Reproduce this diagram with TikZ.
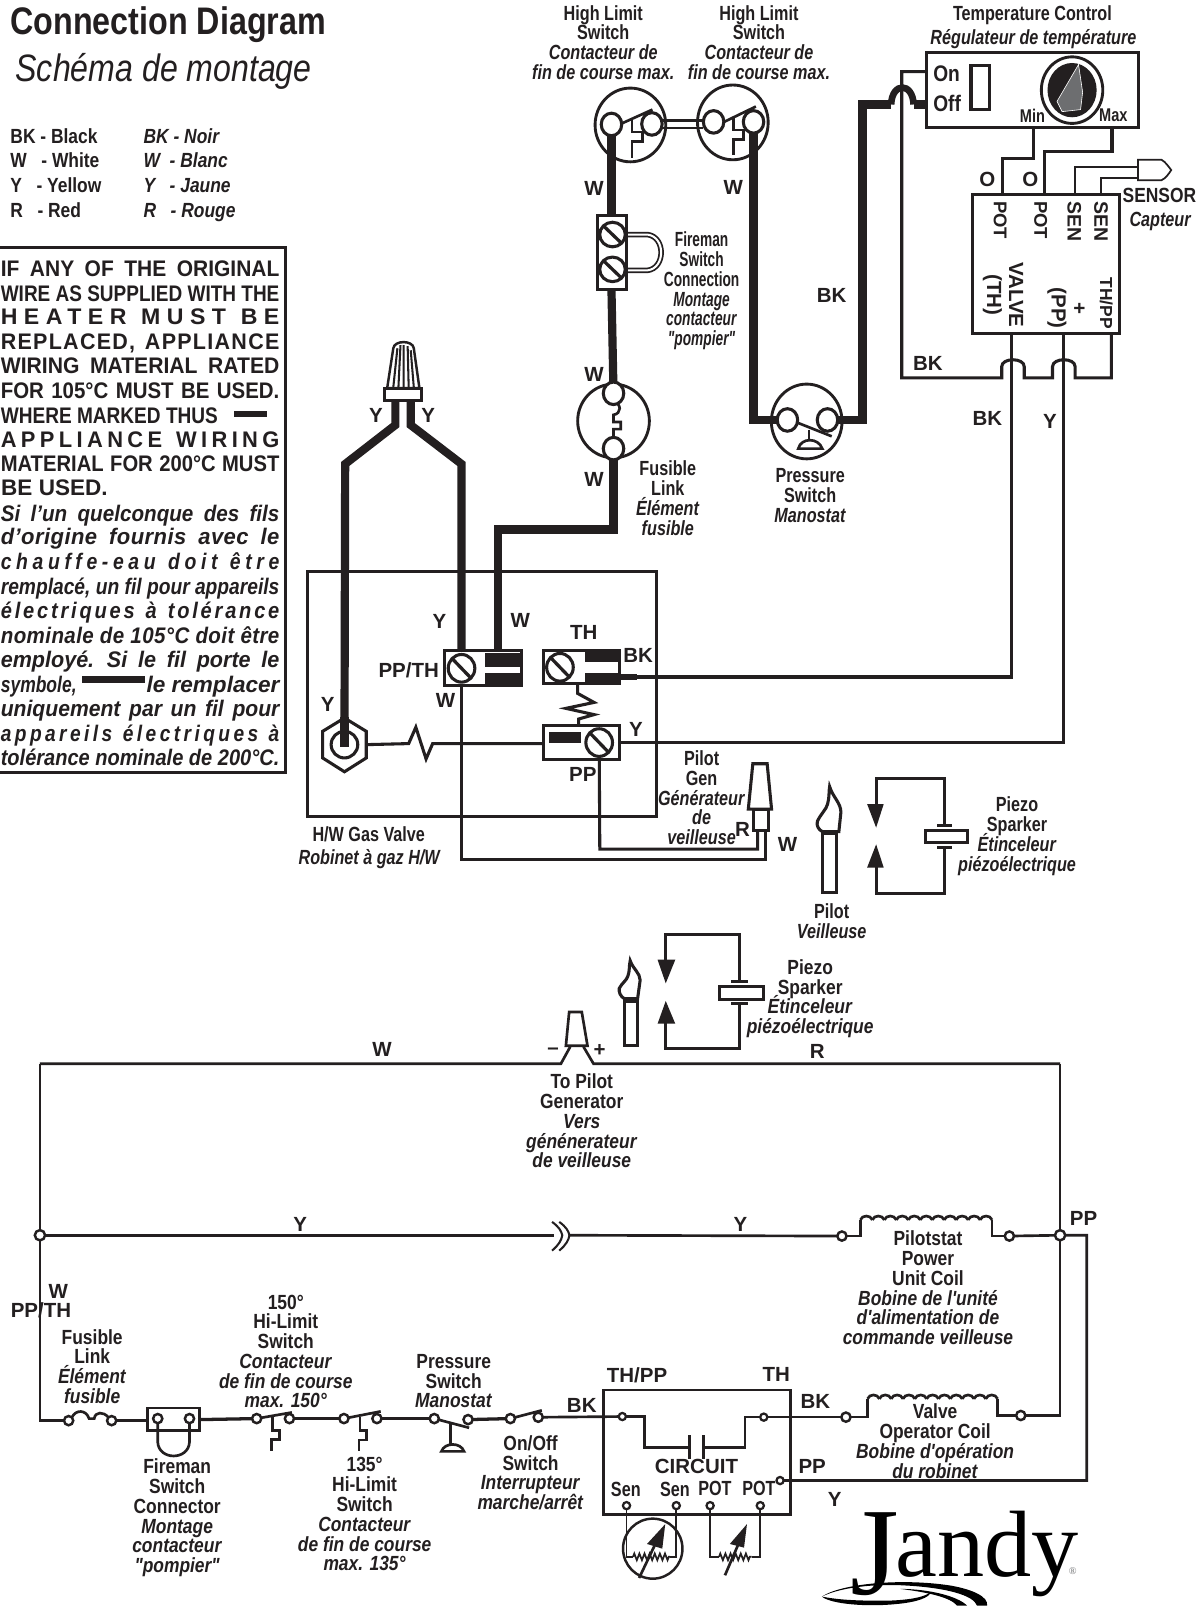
\documentclass[tikz,border=0pt]{standalone}
\usepackage{fontspec}
\usepackage{graphicx}
\usetikzlibrary{shapes.geometric,decorations.pathmorphing}
\setmainfont{Liberation Sans}
\newfontfamily\cn[FakeStretch=0.79]{Liberation Sans}
\newfontfamily\cnw[FakeStretch=0.85]{Liberation Sans}
\newfontfamily\cnn[FakeStretch=0.67]{Liberation Sans}
\newfontfamily\cnt[FakeStretch=0.84]{Liberation Sans}
\newfontfamily\jfont{Liberation Serif}
\definecolor{ink}{HTML}{231F20}
\definecolor{knobgrey}{HTML}{6D6E70}
\newcommand\lblfont{\cn\bfseries\fontsize{20}{19.3}\selectfont\lineskiplimit=-30pt\relax}
\newcommand\lblwfont{\cnw\bfseries\fontsize{20}{19.3}\selectfont\lineskiplimit=-30pt\relax}
\newcommand\lblnfont{\cnn\bfseries\fontsize{20}{19.3}\selectfont\lineskiplimit=-30pt\relax}
\tikzset{
  thinw/.style={line width=3,color=ink},
  fatw/.style={line width=8,color=ink},
  botw/.style={line width=2.6,color=ink},
  finew/.style={line width=1.7,color=ink},
  boxw/.style={draw=ink,line width=3,fill=white,inner sep=0,outer sep=0},
  term/.style={ellipse,draw=ink,line width=3,fill=white,inner sep=0,outer sep=0,minimum width=20,minimum height=22},
  sterm/.style={circle,draw=ink,line width=2.4,fill=white,inner sep=0,outer sep=0,minimum size=9},
  tterm/.style={circle,draw=ink,line width=2.2,fill=white,inner sep=0,outer sep=0,minimum size=7},
  lbl/.style={inner sep=0,align=center,text=ink,font=\lblfont},
  lblw/.style={inner sep=0,align=center,text=ink,font=\lblwfont},
  lbln/.style={inner sep=0,align=center,text=ink,font=\lblnfont},
  wlb/.style={inner sep=0,text=ink,font=\fontsize{20}{20}\selectfont\bfseries},
  leg/.style={inner sep=0,anchor=base west,text=ink,font=\cnw\bfseries\fontsize{20}{20}\selectfont},
  warn/.style={inner sep=0,anchor=base east,text=ink,font=\fontsize{22}{24}\selectfont},
  zz/.style={decorate,decoration={zigzag,segment length=5,amplitude=3.2}},
}
\newcommand\lab[3]{\node[wlb] (lab-#1-#2) at (#1,#2) {#3};}
\newcommand\cl[3]{\node[lbl] (cl-#1-#2) at (#1,#2) {#3};}
\newcommand\clw[3]{\node[lblw] (cl-#1-#2) at (#1,#2) {#3};}
\newcommand\cln[3]{\node[lbln] (cl-#1-#2) at (#1,#2) {#3};}
\newcommand\rtx[4][20]{\node[wlb,rotate=-90,font=\fontsize{#1}{#1}\selectfont\bfseries] (rt-#2-#3) at (#2,#3) {#4};}
\newcommand\itl[1]{\textit{#1}}
\newcommand\wln[3]{\def\wtext{\bfseries\addfontfeature{LetterSpace=#2}#3}\node[warn] (wl#1) at (273,#1) {\resizebox{272pt}{\height}{\wtext}};}
\newcommand\wli[3]{\def\wtext{\bfseries\itshape\addfontfeature{LetterSpace=#2}#3}\node[warn] (wl#1) at (273,#1) {\resizebox{272pt}{\height}{\wtext}};}
\newcommand\screw[4]{\draw[line width=3,color=ink,fill=white] (#1,#2) ellipse ({#3} and {#4});
  \draw[line width=3.2,color=ink] ({#1-0.72*#3},{#2-0.72*#4}) -- ({#1+0.72*#3},{#2+0.72*#4});}
\newcommand\coil[3]{\foreach \i in {0,...,10}{\draw[botw]
  ({#1+\i*(#2-#1)/11},#3) .. controls ({#1+(\i+.15)*(#2-#1)/11},{#3-5}) and ({#1+(\i+.85)*(#2-#1)/11},{#3-5}) .. ({#1+(\i+1)*(#2-#1)/11},#3);}}
\begin{document}
\begin{tikzpicture}[x=1pt,y=-1pt,line join=miter]
\useasboundingbox (0,0) rectangle (1171,1568);
\clip (0,0) rectangle (1171,1568);
\fill[white] (0,0) rectangle (1171,1568);

%% ---------- titles and legend
\node[inner sep=0,anchor=base west,text=ink,font=\cnt\fontsize{37.5}{38}\selectfont\bfseries] (title) at (10,34) {Connection Diagram};
\node[inner sep=0,anchor=base west,text=ink,font=\cnt\fontsize{37.3}{38}\selectfont\itshape] (subtitle) at (15,80) {Schéma de montage};
\node[leg] (l1) at (10,140) {BK - Black};
\node[leg] (l2) at (10,164) {W \ \ - White};
\node[leg] (l3) at (10,188) {Y \ \ - Yellow};
\node[leg] (l4) at (10,212) {R \ \ - Red};
\node[leg] (l5) at (140,140) {\itl{BK - Noir}};
\node[leg] (l6) at (140,164) {\itl{W \ - Blanc}};
\node[leg] (l7) at (140,188) {\itl{Y \ \ - Jaune}};
\node[leg] (l8) at (140,212) {\itl{R \ \ - Rouge}};

%% ---------- warning box
\draw[line width=2.8,color=ink] (-3,242) -- (279,242) -- (279,754) -- (-3,754);
\wln{270}{0}{\spaceskip=11pt IF ANY OF THE ORIGINAL}
\wln{294}{0}{WIRE AS SUPPLIED WITH THE}
\wln{317}{28}{\spaceskip=14pt HEATER MUST BE}
\wln{341}{6}{\spaceskip=10pt REPLACED, APPLIANCE}
\wln{365}{0}{\spaceskip=11pt WIRING MATERIAL RATED}
\wln{389}{0}{\spaceskip=8pt FOR 105°C MUST BE USED.}
\node[warn] (wl413) at (213,413) {\resizebox{212pt}{\height}{\bfseries WHERE MARKED THUS}};
\fill[ink] (228,401) rectangle (261,407);
\wln{437}{20}{\spaceskip=14pt APPLIANCE WIRING}
\wln{460}{0}{\spaceskip=7pt MATERIAL FOR 200°C MUST}
\node[warn,anchor=base west] (wl484) at (1,484) {\bfseries BE USED.};
\wli{509}{0}{\spaceskip=11pt Si l'un quelconque des fils}
\wli{532}{2}{\spaceskip=12pt d'origine fournis avec le}
\wli{556}{24}{\spaceskip=14pt chauffe-eau doit être}
\wli{580}{0}{remplacé, un fil pour appareils}
\wli{604}{14}{\spaceskip=12pt électriques à tolérance}
\wli{628}{2}{nominale de 105°C doit être}
\wli{652}{0}{\spaceskip=11pt employé. Si le fil porte le}
\node[warn] (wl676b) at (273,676) {\bfseries\itshape le remplacer};
\node[warn] (wl676a) at (75,676) {\resizebox{74pt}{\height}{\bfseries\itshape symbole,}};
\fill[ink] (80,660) rectangle (142,667);
\wli{700}{0}{\spaceskip=9pt uniquement par un fil pour}
\wli{724}{18}{\spaceskip=12pt appareils électriques à}
\wli{747}{0}{tolérance nominale de 200°C.}

%% ---------- named wire ends, upper diagram
\coordinate (s1L) at (597,121.5);
\coordinate (s1R) at (636.5,121);
\coordinate (s2L) at (696.7,119);
\coordinate (s2R) at (735.7,119);
\coordinate (fzT) at (599,384);
\coordinate (fzB) at (599,438);
\coordinate (psL) at (768.8,410);
\coordinate (psR) at (807.9,410);
\coordinate (blk1) at (597,210);
\coordinate (blk2) at (597,283);
\coordinate (ppA) at (486.5,636);
\coordinate (ppB) at (450.6,652.5);
\coordinate (nutL) at (386,388);
\coordinate (nutR) at (401,388);
\coordinate (hexc) at (336.3,727);
\coordinate (thE) at (604,661);
\coordinate (ppE) at (585,725);
\coordinate (pgR) at (739.7,808);
\coordinate (pgW) at (747.5,808);
\coordinate (tcOn) at (905.4,70);
\coordinate (tcOff) at (905.4,102);
\coordinate (tcMin) at (1009.4,125);
\coordinate (tcMax) at (1085.7,125);
\coordinate (cbP1) at (979,190);
\coordinate (cbP2) at (1020,190);
\coordinate (cbS1) at (1049.7,190);
\coordinate (cbS2) at (1075,190);
\coordinate (cbV) at (988,326);
\coordinate (cbPl) at (1038,326);
\coordinate (cbT) at (1085,326);
\coordinate (sens1) at (1111,163);
\coordinate (sens2) at (1111,173.5);

%% ---------- gas valve
\draw[line width=3,color=ink] (300,558) rectangle (641,797);

%% ---------- heavy wires
\draw[fatw] (s1L) ++(0,12) -- (blk1);
\draw[fatw] (blk2) -- (fzT);
\draw[fatw] (fzB) -- (599,517) -- (486.5,517) -- (ppA);
\draw[fatw] (s2R) ++(0,10) -- (735.7,410) -- (psL);
\draw[fatw] (psR) -- (842,410) -- (842,102) -- (870,102);
\draw[line width=6.5,color=ink] (870,102) .. controls (871,80) and (891,80) .. (892,102);
\draw[fatw] (892,102) -- (tcOff);
\draw[fatw] (nutL) -- (386,415) -- (337,453) -- (hexc);
\draw[fatw] (nutR) -- (401,415) -- (450.6,453) -- (450.6,640);

%% ---------- thin wires, upper diagram
\draw[thinw] (tcOn) -- (880.4,70) -- (880.4,369) -- (978,369) -- (978,358)
  .. controls (978,349) and (1000,349) .. (1000,358) -- (1000,369) -- (1027.6,369) -- (1027.6,358)
  .. controls (1027.6,349) and (1049.7,349) .. (1049.7,358) -- (1049.7,369) -- (1085,369) -- (cbT);
\draw[thinw] (tcMin) -- (1009.4,155) -- (979,155) -- (cbP1);
\draw[thinw] (tcMax) -- (1085.7,147.5) -- (1020,147.5) -- (cbP2);
\draw[finew] (cbS1) -- (1049.7,163) -- (sens1);
\draw[finew] (cbS2) -- (1075,173.5) -- (sens2);
\draw[thinw] (cbV) -- (988,661) -- (thE);
\draw[line width=6,color=ink] (thE) -- (622,661);
\draw[thinw] (cbPl) -- (1038,725) -- (ppE);
\draw[thinw] (ppB) -- (450.6,839) -- (747.5,839) -- (pgW);
\draw[thinw] (ppE) -- (585.6,829) -- (739.7,829) -- (pgR);
\draw[thinw] (hexc) ++(22,0) -- (399,726) -- (406,710) -- (416,741) -- (422.4,726) -- (530.5,726);

%% ---------- high limit switches
\draw[line width=2.8,color=ink] (615.5,122) ellipse (34.5 and 36);
\draw[line width=2.8,color=ink] (715.5,119.5) ellipse (34.5 and 36.5);
\draw[botw] (606,121) -- (637,107);
\draw[botw] (707,119) -- (738,104);
\draw[botw] (617,117) -- (617,129) -- (627,129) -- (627,138) -- (617,138) -- (617,154);
\draw[botw] (716,115) -- (716,127) -- (726,127) -- (726,136) -- (716,136) -- (716,151);
\draw[line width=2.5,color=ink] (646,117.5) -- (686,117.5);
\draw[line width=2.5,color=ink] (646,125) -- (686,125);
\node[term] (t-s1L) at (s1L) {};
\node[term] (t-s1R) at (s1R) {};
\node[term] (t-s2L) at (s2L) {};
\node[term] (t-s2R) at (s2R) {};
\fill[ink] (593,133) rectangle (601,140);
\fill[ink] (731.7,129.5) rectangle (739.7,136);

%% ---------- fireman block
\draw[line width=5.4,color=ink] (612,229) -- (632,229) .. controls (650,231) and (650,262) .. (632,264) -- (612,264);
\draw[line width=2,color=white] (610,229) -- (632,229) .. controls (650,231) and (650,262) .. (632,264) -- (610,264);
\draw[line width=3,color=ink,fill=white] (583.5,210) rectangle (612,283);
\screw{598}{229}{12.5}{12}
\screw{598}{263}{12.5}{12}

%% ---------- fusible link
\draw[line width=2.8,color=ink] (599,411) ellipse (35 and 36);
\draw[botw] (599,392) .. controls (607,394) and (607,404) .. (599,405) -- (599,412) -- (606,412) -- (606,419) -- (599,419) -- (599,430);
\node[term] (t-fzT) at (fzT) {};
\node[term] (t-fzB) at (fzB) {};

%% ---------- pressure switch
\draw[line width=2.8,color=ink,fill=white] (787.6,411.5) ellipse (34.5 and 36.5);
\fill[ink] (735,406) rectangle (760,414);
\fill[ink] (816,406) rectangle (838,414);
\draw[botw] (779.4,413) -- (812,426);
\draw[botw] (790,419.5) -- (790,431);
\draw[botw] (779.4,438) .. controls (782,427) and (799,427) .. (802.8,438) -- cycle;
\node[term] (t-psL) at (psL) {};
\node[term] (t-psR) at (psR) {};

%% ---------- temperature control
\node[boxw,minimum width=206.2,minimum height=73.8] (tc) at (1008,88) {};
\node[inner sep=0,anchor=west,text=ink,font=\fontsize{22}{22}\selectfont\cnw\bfseries] (on) at (911,72) {On};
\node[inner sep=0,anchor=west,text=ink,font=\fontsize{22}{22}\selectfont\cnw\bfseries] (off) at (911,101) {Off};
\draw[line width=3,color=ink] (948,64) rectangle (966,107);
\draw[line width=2.8,color=ink] (1046.7,88) ellipse (30 and 32.5);
\fill[ink] (1046.7,88) ellipse (24 and 26.5);
\fill[knobgrey,draw=white,line width=.6] (1053,63) -- (1032,99) -- (1037,109) -- (1055,107) -- (1057,90) -- cycle;
\node[lbl,font=\cn\bfseries\fontsize{18}{18}\selectfont] (min) at (1008,113) {Min};
\node[lbl,font=\cn\bfseries\fontsize{18}{18}\selectfont] (max) at (1087,113) {Max};

%% ---------- control module
\node[boxw,minimum width=143.5,minimum height=136] (cb) at (1021.5,258) {};
\rtx[18]{976.5}{215}{POT}
\rtx[18]{1016}{215}{POT}
\rtx[19]{1049}{216}{SEN}
\rtx[19]{1075}{216}{SEN}
\rtx{992}{288}{VALVE}
\rtx{969}{288}{(TH)}
\rtx{1053}{301}{+}
\rtx{1032}{301}{(PP)}
\rtx[17]{1080}{296}{TH/PP}
\lab{964}{175}{O}
\lab{1006}{175}{O}
\draw[finew,fill=white] (1111,156) -- (1134,156) .. controls (1138,158) and (1141,163) .. (1143.5,166) .. controls (1141,170) and (1138,174) .. (1134,176) -- (1111,176) -- cycle;
\clw{1132}{191}{SENSOR}
\cl{1133}{216}{\itl{Capteur}}

%% ---------- wire nut
\draw[line width=2.4,color=ink,fill=white] (378,379) -- (384,340) .. controls (385,332) and (403,332) .. (404,340) -- (409.5,379) -- cycle;
\draw[line width=2,color=ink] (384,378) -- (388,340) (389,378) -- (391,337) (394,378) -- (394,337) (399,378) -- (398,338) (404,378) -- (401,342);
\draw[line width=2.8,color=ink,fill=white] (375.5,379) rectangle (411.5,391);

%% ---------- valve blocks
\draw[line width=3,color=ink,fill=white] (433.7,635) rectangle (508.8,669);
\fill[ink] (474,638) rectangle (508.8,650.8);
\fill[ink] (474,656.6) rectangle (508.8,669);
\screw{450.6}{652.5}{13}{13.5}
\draw[line width=3,color=ink,fill=white] (530.5,635) rectangle (604.4,667.6);
\fill[ink] (571.3,635) rectangle (604.4,646.4);
\fill[ink] (571.3,656.6) rectangle (604.4,667.6);
\screw{546.7}{651.5}{13}{13.5}
\draw[line width=3,color=ink,fill=white] (530.5,708.7) rectangle (604.4,741.6);
\fill[ink] (536,715) rectangle (567.5,725);
\screw{585}{725}{13}{13.5}
\draw[thinw] (564,667.6) -- (564,677) -- (580,685.8) -- (552.5,691.6) -- (580,697.7) -- (565,702) -- (565,708.7);
\draw[line width=3,color=ink,fill=white] (336.3,701) -- (357.6,714) -- (357.6,740) -- (336.3,753.5) -- (315,740) -- (315,714) -- cycle;
\draw[line width=3,color=ink] (336.3,727) circle (13);
\fill[ink] (332.3,700) rectangle (340.3,729);

%% ---------- pilot generator
\draw[line width=3,color=ink,fill=white] (735,745.7) -- (749,745.7) -- (753.3,790) -- (730.6,790) -- cycle;
\draw[line width=3,color=ink,fill=white] (736,790) rectangle (750,810.7);

%% ---------- pilot 1 and piezo 1
\draw[line width=3,color=ink,fill=white] (810,768) .. controls (813,778) and (821,784) .. (821,793) -- (819,812) -- (803,812) .. controls (799,810) and (797,806) .. (798,802) .. controls (801,795) and (807,790) .. (808,785) .. controls (810,778) and (809,773) .. (810,768) -- cycle;
\draw[line width=3,color=ink] (803,813) rectangle (817,871.5);
\draw[line width=4,color=ink] (802,813) -- (818,813);
\draw[thinw] (922.5,806) -- (922.5,760) -- (855.4,760) -- (855.4,790);
\fill[ink] (846.6,785) -- (862.8,785) -- (855.4,808) -- cycle;
\fill[ink] (846.6,847) -- (862.8,847) -- (855.4,824.4) -- cycle;
\draw[thinw] (855.4,845) -- (855.4,872) -- (922.5,872) -- (922.5,828);
\draw[line width=3.2,color=ink] (915,806) -- (929.6,806) (915,827.6) -- (929.6,827.6);
\draw[line width=3,color=ink,fill=white] (903.6,810.7) rectangle (944.3,823);

%% ---------- pilot 2 and piezo 2
\draw[line width=3,color=ink,fill=white] (615.3,938) .. controls (618,946) and (625,950) .. (625,957) -- (622.5,975) -- (609.5,975) .. controls (606,973) and (604,969) .. (604.6,965) .. controls (607,960) and (612,957) .. (613,953) .. controls (615,948) and (614,943) .. (615.3,938) -- cycle;
\draw[line width=3,color=ink] (609.5,977) rectangle (622,1020.5);
\draw[line width=4,color=ink] (608.5,977) -- (623,977);
\draw[thinw] (722,958) -- (722,912) -- (650,912) -- (650,940);
\fill[ink] (642,937) -- (659.3,937) -- (650,960) -- cycle;
\fill[ink] (642,999.5) -- (659.3,999.5) -- (650,977.3) -- cycle;
\draw[thinw] (650,998) -- (650,1024) -- (722,1024) -- (722,980);
\draw[line width=3.2,color=ink] (714,958) -- (730,958) (714,980) -- (730,980);
\draw[line width=3,color=ink,fill=white] (702.6,962.7) rectangle (745.6,975.7);

%% ---------- generator on the schematic
\coordinate (gL) at (547.6,1038.6);
\coordinate (gR) at (579.5,1038.6);
\coordinate (rC) at (1035,1038.6);
\coordinate (lC) at (39,1038.6);
\draw[line width=2.6,color=ink] (lC) -- (gL) -- (556.7,1022);
\draw[line width=2.6,color=ink] (569.7,1022) -- (gR) -- (rC);
\draw[line width=2.6,color=ink,fill=white] (555.7,988) -- (568,988) -- (573.6,1021) -- (552.5,1021) -- cycle;

%% ---------- schematic nodes
\node[sterm,minimum size=10] (nL) at (39,1206) {};
\node[sterm,minimum size=10] (nR) at (1035,1206) {};
\node[sterm] (c1a) at (822,1206.8) {};
\node[sterm] (c1b) at (985.5,1206.8) {};
\node[sterm] (f1) at (67,1387) {};
\node[sterm] (f2) at (109,1387) {};
\node[sterm] (fm1) at (154,1385) {};
\node[sterm] (fm2) at (185,1385) {};
\node[sterm] (h1a) at (250.6,1385) {};
\node[sterm] (h1b) at (282.6,1385) {};
\node[sterm] (h2a) at (335.8,1385) {};
\node[sterm] (h2b) at (368,1385) {};
\node[sterm] (p1) at (424,1385) {};
\node[sterm] (p2) at (457,1386) {};
\node[sterm] (o1) at (498.3,1385) {};
\node[sterm] (o2) at (525.5,1383.7) {};
\node[tterm] (cTP) at (607.6,1383) {};
\node[tterm] (cTH) at (745.7,1383.6) {};
\node[sterm] (v1) at (825.9,1383.6) {};
\node[sterm] (v2) at (996.6,1382) {};
\node[tterm] (cPP) at (761.6,1445.5) {};
\node[tterm] (s1) at (611.7,1470) {};
\node[tterm] (s2) at (660.3,1470) {};
\node[tterm] (pt1) at (693.3,1470) {};
\node[tterm] (pt2) at (742.3,1470) {};

%% ---------- schematic wires
\draw[botw] (lC) -- (nL) -- (39,1387) -- (f1);
\draw[botw] (nR) -- (rC);
\draw[botw] (nR) -- (1035,1382) -- (v2);
\draw[botw] (nL) -- (541,1206);
\draw[botw] (555,1206) -- (c1a);
\draw[line width=2,color=ink] (539,1193) .. controls (546,1198) and (548,1202) .. (549,1206) .. controls (548,1211) and (546,1215) .. (539,1221);
\draw[line width=2,color=ink] (546,1193) .. controls (553,1198) and (555,1202) .. (556,1206) .. controls (555,1211) and (553,1215) .. (546,1221);
\draw[botw] (c1a) -- (840,1206.8) -- (840,1191);
\coil{840}{968.6}{1191}
\draw[botw] (968.6,1191) -- (968.6,1206.8) -- (c1b);
\draw[botw] (c1b) -- (nR) -- (1061,1206) -- (1061,1445.5) -- (cPP);
\draw[botw] (f1.north east) .. controls (74,1376) and (84,1376) .. (87,1385) -- (92,1385) .. controls (93,1378) and (101,1378) .. (f2.north west);
\draw[botw] (f2) -- (144,1387);
\draw[botw] (144,1374.6) rectangle (195,1396.7);
\draw[botw] (fm1) -- (154,1408) .. controls (155,1426) and (184,1426) .. (185,1408) -- (fm2);
\draw[line width=3.2,color=ink] (195,1386) -- (h1a);
\draw[botw] (h1a) -- (285,1379);
\draw[botw] (266,1383) -- (266,1396.7) -- (273,1396.7) -- (273,1405.5) -- (265,1405.5) -- (265,1417);
\draw[line width=3.2,color=ink] (h1b) -- (h2a);
\draw[botw] (h2a) -- (371.7,1378);
\draw[botw] (351.5,1383) -- (351.5,1396.7) -- (358,1396.7) -- (358,1406) -- (350.4,1406) -- (350.4,1417);
\draw[line width=3.2,color=ink] (h2b) -- (p1);
\draw[botw] (p1) -- (458,1394);
\draw[botw] (440,1389) -- (440,1410);
\draw[botw] (431,1417) .. controls (434,1408) and (450,1408) .. (453,1417) -- cycle;
\draw[line width=3.2,color=ink] (p2) -- (o1);
\draw[botw] (o1) -- (529,1377);
\draw[botw] (o2) -- (cTP);
\draw[botw] (cTP) -- (629,1383) -- (629,1413) -- (673.3,1413);
\draw[botw] (673.3,1401.5) -- (673.3,1424);
\draw[botw] (686.6,1401.5) -- (686.6,1424);
\draw[botw] (686.6,1413) -- (727.5,1413) -- (727.5,1383.6) -- (cTH);
\draw[botw] (cTH) -- (v1);
\draw[botw] (v1) -- (847,1383.6) -- (847,1365.7);
\coil{847}{974}{1365.7}
\draw[botw] (974,1365.7) -- (974,1382) -- (v2);
\draw[botw] (589,1357) rectangle (772,1478.7);

%% sensor and pot
\draw[line width=2.4,color=ink] (637.3,1512) ellipse (29 and 29.3);
\draw[finew] (s1) -- (611.7,1520) -- (618,1520);
\draw[finew,zz] (618,1520) -- (654,1520);
\draw[finew] (654,1520) -- (660.3,1520) -- (s2);
\draw[botw] (624,1540.6) -- (641,1505);
\fill[ink] (649.5,1488) -- (631.7,1507.4) -- (646.6,1512) -- cycle;
\draw[finew] (pt1) -- (693.3,1520) -- (702,1520);
\draw[finew,zz] (702,1520) -- (733.8,1520);
\draw[finew] (733.8,1520) -- (742.3,1520) -- (pt2);
\draw[botw] (707.8,1538) -- (722,1505);
\fill[ink] (729.3,1488) -- (712.6,1507.4) -- (726.4,1511) -- cycle;

%% ---------- upper labels
\cl{589}{41.5}{High Limit\\Switch\\\itl{Contacteur de}\\\itl{fin de course max.}}
\cl{741}{41.5}{High Limit\\Switch\\\itl{Contacteur de}\\\itl{fin de course max.}}
\cl{1008}{15}{Temperature Control}
\cl{1009}{38}{\itl{Régulateur de température}}
\cln{685}{284}{Fireman\\Switch\\Connection\\\itl{Montage}\\\itl{contacteur}\\\itl{"pompier"}}
\cl{652}{486.5}{Fusible\\Link\\\itl{Élément}\\\itl{fusible}}
\cl{791}{484}{Pressure\\Switch\\\itl{Manostat}}
\cl{685}{779}{Pilot\\Gen\\\itl{Générateur}\\\itl{de}\\\itl{veilleuse}}
\cl{360}{815}{H/W Gas Valve}
\cl{361}{839}{\itl{Robinet à gaz H/W}}
\cl{812}{899.5}{Pilot\\\itl{Veilleuse}}
\cl{993}{816.5}{Piezo\\Sparker\\\itl{Étinceleur}\\\itl{piézoélectrique}}
\clw{791}{975}{Piezo\\Sparker\\\itl{Étinceleur}\\\itl{piézoélectrique}}
\clw{568}{1094.5}{To Pilot\\Generator\\\itl{Vers}\\\itl{génénerateur}\\\itl{de veilleuse}}
\clw{906}{1257.5}{Pilotstat\\Power\\Unit Coil\\\itl{Bobine de l'unité}\\\itl{d'alimentation de}\\\itl{commande veilleuse}}
\clw{913}{1407}{Valve\\Operator Coil\\\itl{Bobine d'opération}\\\itl{du robinet}}
\clw{90}{1334}{Fusible\\Link\\\itl{Élément}\\\itl{fusible}}
\clw{279}{1319.5}{150°\\Hi-Limit\\Switch\\\itl{Contacteur}\\\itl{de fin de course}\\\itl{max. 150°}}
\clw{356}{1478.5}{135°\\Hi-Limit\\Switch\\\itl{Contacteur}\\\itl{de fin de course}\\\itl{max. 135°}}
\clw{443}{1348.5}{Pressure\\Switch\\\itl{Manostat}}
\clw{518}{1438}{On/Off\\Switch\\\itl{Interrupteur}\\\itl{marche/arrêt}}
\clw{173}{1482}{Fireman\\Switch\\Connector\\\itl{Montage}\\\itl{contacteur}\\\itl{"pompier"}}
\cl{611}{1454}{Sen}
\cl{659}{1454}{Sen}
\cl{698}{1453}{POT}
\cl{741}{1453}{POT}

\lab{580}{184}{W}
\lab{716}{183}{W}
\lab{812}{288}{BK}
\lab{580}{366}{W}
\lab{580}{468}{W}
\lab{906}{355}{BK}
\lab{964}{409}{BK}
\lab{1025}{411}{Y}
\lab{367}{406}{Y}
\lab{418}{406}{Y}
\lab{429}{607}{Y}
\lab{508}{606}{W}
\lab{399}{654}{PP/TH}
\lab{435}{684}{W}
\lab{570}{617}{TH}
\lab{623}{640}{BK}
\lab{320}{688}{Y}
\lab{621}{712}{Y}
\lab{569}{756}{PP}
\lab{725}{810}{R}
\lab{769}{824}{W}
\lab{798}{1027}{R}
\lab{373}{1025}{W}
\lab{293}{1195}{Y}
\lab{723}{1195}{Y}
\lab{1058}{1190}{PP}
\lab{57}{1261}{W}
\lab{40}{1279}{PP/TH}
\lab{622}{1343}{TH/PP}
\lab{758}{1342}{TH}
\lab{568}{1372}{BK}
\lab{796}{1368}{BK}
\lab{793}{1432}{PP}
\lab{815}{1464}{Y}
\lab{680}{1432}{CIRCUIT}
\lab{540}{1026}{–}
\lab{585.4}{1026}{+}

%% ---------- logo
\fill[black] (802.5,1558.8) .. controls (820.4,1546.4) and (879,1540.5) .. (927.9,1548) .. controls (950.7,1552) and (965.3,1559.4) .. (963.7,1567.6) -- (953.9,1567.6) .. controls (950.7,1557.8) and (924.6,1549.7) .. (879,1547.7) .. controls (846.4,1546.4) and (817.1,1551.3) .. (802.5,1558.8) -- cycle;
\fill[black] (802.5,1558.8) .. controls (810.6,1566) and (846.4,1569.2) .. (875.8,1566) .. controls (895.3,1564.3) and (908.3,1559.4) .. (908.3,1554.5) .. controls (901.8,1560.1) and (885,1562) .. (869.2,1562.7) .. controls (830.2,1563.3) and (813.9,1561) .. (802.5,1558.8) -- cycle;
\fill[black] (879,1551.3) .. controls (905,1551.3) and (934.4,1557.8) .. (944.2,1567.6) -- (934.4,1567.6) .. controls (927.9,1559.4) and (905,1554.5) .. (879,1551.3) -- cycle;
\node[inner sep=0,anchor=base west,text=black,font=\jfont] (logo) at (830,1539) {\fontsize{122}{122}\selectfont\raisebox{-18pt}[0pt][0pt]{J}\kern-3pt\fontsize{92}{92}\selectfont andy\kern-10pt\raisebox{1.5pt}{\fontsize{10}{10}\selectfont\textcolor{knobgrey}{®}}};
\end{tikzpicture}
\end{document}
